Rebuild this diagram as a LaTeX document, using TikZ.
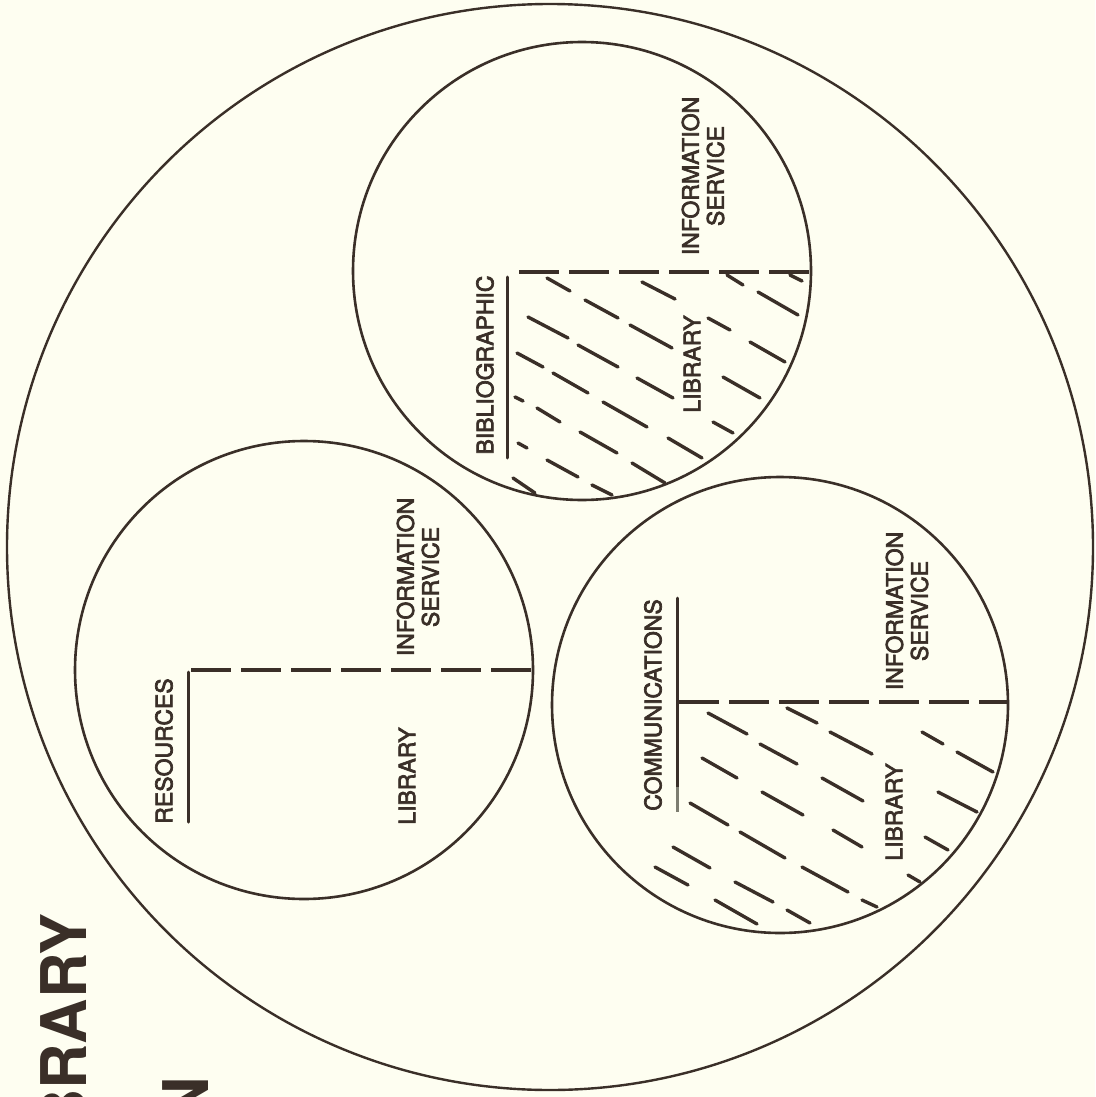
\documentclass[tikz,border=0pt]{standalone}
\usepackage{fontspec}
\setmainfont{TeX Gyre Heros}
\newfontfamily\lblfont{TeX Gyre Heros}[FakeBold=3]
\definecolor{ink}{RGB}{58,47,40}
\definecolor{paper}{RGB}{254,254,241}
\definecolor{fade}{RGB}{125,125,112}
\tikzset{
  ring/.style={draw=ink, line width=2.6pt},
  bigring/.style={draw=ink, line width=2.4pt},
  divider/.style={draw=ink, line width=3.6pt, dash pattern=on 40pt off 10pt},
  edgeline/.style={draw=ink, line width=3pt, line cap=round},
  hatch/.style={draw=ink, line width=3.4pt, line cap=round},
  lbl/.style={text=ink, inner sep=0pt, align=center, font=\lblfont\fontsize{23}{25}\selectfont, rotate=90},
  ttl/.style={text=ink, inner sep=0pt, font=\fontsize{63}{70}\selectfont\bfseries, rotate=90, anchor=base east},
}
\begin{document}
\begin{tikzpicture}[x=1pt,y=-1pt]
\useasboundingbox (0,0) rectangle (1095,1097);
\clip (0,0) rectangle (1095,1097);
\fill[paper] (0,0) rectangle (1095,1097);

% centres
\coordinate (outerC) at (550,547);
\coordinate (resC) at (304,670);
\coordinate (bibC) at (582,271);
\coordinate (comC) at (780,705);

% circles
\draw[bigring] (outerC) circle[radius=543];
\draw[ring] (resC) circle[radius=229];
\draw[ring] (bibC) circle[radius=229];
\draw[ring] (comC) circle[radius=228];

% title (partly outside the page)
\node[ttl] (ttlA) at (86,913) {BRARY};
\node[ttl] (ttlB) at (208,1077) {N};

% resources circle
\coordinate (resV1) at (188,822);
\coordinate (resV2) at (188,672);
\coordinate (resD1) at (191,670);
\coordinate (resD2) at (533,670);
\draw[edgeline] (resV1) -- (resV2);
\draw[divider] (resD1) -- (resD2);
\node[lbl] (resT) at (164,751) {RESOURCES};
\node[lbl] (resLib) at (407,776) {LIBRARY};
\node[lbl] (resInfo) at (418,577) {INFORMATION\\SERVICE};

% bibliographic circle
\foreach \a/\b/\c/\d in {547/278/570/291, 585/300/618/318, 642/282/675/299,
  528/317/568/338, 578/345/618/367, 630/325/672/348, 517/353/543/367,
  553/373/588/393, 637/378/673/398, 603/402/647/427, 515/397/523/401,
  537/408/560/422, 580/432/617/453, 668/438/702/458, 518/443/527/448,
  547/460/578/477, 632/463/665/483, 513/478/535/493, 592/485/612/495,
  708/318/730/330, 727/275/743/285, 758/292/798/315, 750/342/785/362,
  723/377/760/398, 713/422/733/433, 790/275/802/281}
  \draw[hatch] (\a,\b) -- (\c,\d);
\coordinate (bibV1) at (507,458);
\coordinate (bibV2) at (507,277);
\coordinate (bibD1) at (519,272);
\coordinate (bibD2) at (811,272);
\draw[edgeline] (bibV1) -- (bibV2);
\draw[divider] (bibD1) -- (bibD2);
\node[lbl] (bibT) at (485,365) {BIBLIOGRAPHIC};
\node[lbl] (bibLib) at (692,364) {LIBRARY};
\node[lbl] (bibInfo) at (703,176) {INFORMATION\\SERVICE};

% communications circle
\foreach \a/\b/\c/\d in {922/732/943/744, 957/752/993/772, 787/708/817/723,
  830/732/872/754, 938/792/977/812, 708/713/747/734, 760/744/797/764,
  822/778/863/801, 925/837/948/850, 702/758/737/778, 762/792/803/815,
  833/830/862/847, 908/875/920/882, 690/803/728/825, 740/832/785/858,
  802/867/848/892, 862/900/877/907, 673/847/710/868, 735/882/773/902,
  787/910/810/923, 655/867/688/885, 715/900/757/924}
  \draw[hatch] (\a,\b) -- (\c,\d);
\coordinate (comV1) at (677,598);
\coordinate (comV2) at (677,787);
\coordinate (comV3) at (677,812);
\coordinate (comD1) at (679,702);
\coordinate (comD2) at (1008,702);
\draw[edgeline] (comV1) -- (comV2);
\draw[draw=fade, line width=3pt] (comV2) -- (comV3);
\draw[divider] (comD1) -- (comD2);
\node[lbl] (comT) at (653,705) {COMMUNICATIONS};
\node[lbl] (comLib) at (894,812) {LIBRARY};
\node[lbl] (comInfo) at (907,611) {INFORMATION\\SERVICE};
\end{tikzpicture}
\end{document}
